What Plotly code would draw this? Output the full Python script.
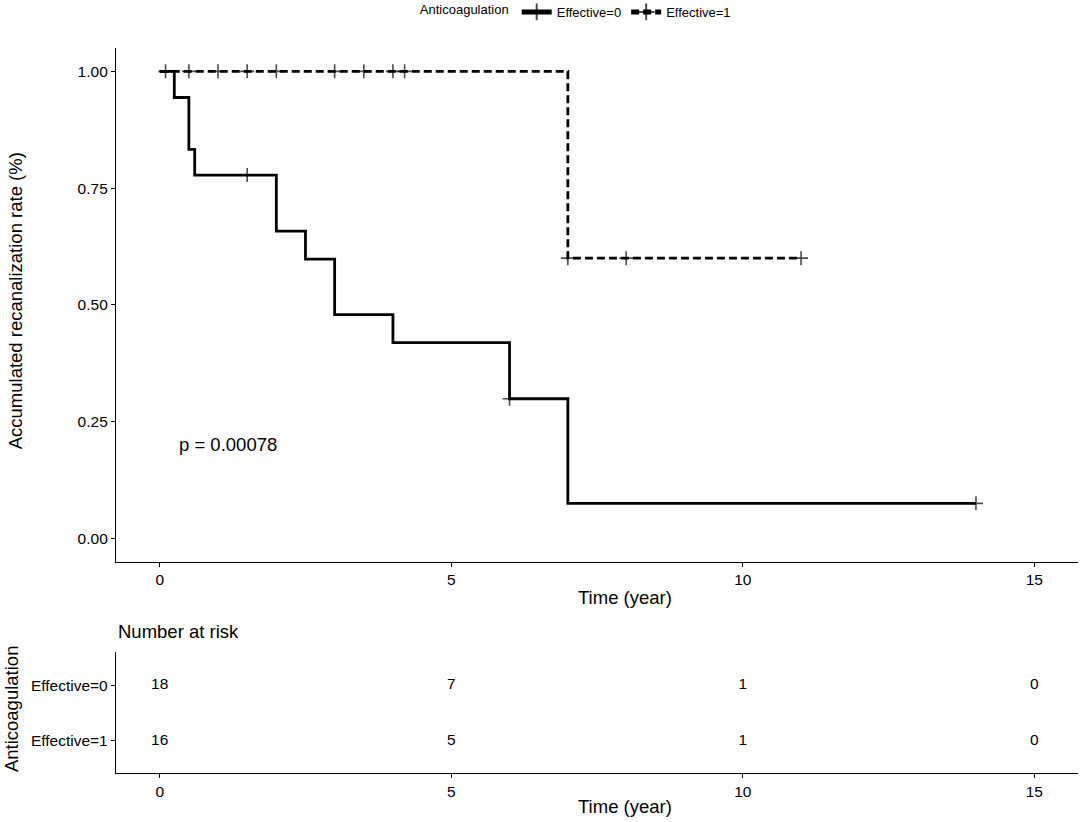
import plotly.graph_objects as go

# ---- data ----
groups = ["Effective=0", "Effective=1"]

# Effective=0 (solid): step times and survival after each step, censor times
g0_times = [0, 0.25, 0.5, 0.6, 2.0, 2.5, 3.0, 4.0, 6.0, 7.0]
g0_surv = [1.0, 0.944, 0.833, 0.778, 0.658, 0.598, 0.479, 0.419, 0.299, 0.075]
g0_censor = [1.5, 6.0, 14.0]

# Effective=1 (dashed)
g1_times = [0, 7.0]
g1_surv = [1.0, 0.6]
g1_censor = [0.1, 0.5, 1.0, 1.5, 2.0, 3.0, 3.5, 4.0, 4.2, 7.0, 8.0, 11.0]

# number at risk table
risk_times = [0, 5, 10, 15]
risk_g0 = [18, 7, 1, 0]
risk_g1 = [16, 5, 1, 0]

y_ticks = [0.0, 0.25, 0.5, 0.75, 1.0]
p_label = "p = 0.00078"

FONT = "Liberation Sans, Arial, sans-serif"


def km_path(times, surv, censor):
    pts = [(t, s, 0) for t, s in zip(times, surv)]
    for c in censor:
        idx = max(i for i, t in enumerate(times) if t <= c)
        pts.append((c, surv[idx], 1))
    pts.sort(key=lambda p: (p[0], p[2]))
    xs = [p[0] for p in pts]
    ys = [p[1] for p in pts]
    sizes = [10 if p[2] else 0 for p in pts]
    return xs, ys, sizes


fig = go.Figure()

for name, times, surv, cens, dash in [
    (groups[0], g0_times, g0_surv, g0_censor, "solid"),
    (groups[1], g1_times, g1_surv, g1_censor, "8px,4px"),
]:
    xs, ys, sizes = km_path(times, surv, cens)
    fig.add_trace(go.Scatter(
        x=xs, y=ys, name=name, mode="lines+markers",
        line=dict(shape="hv", color="black", width=2.8, dash=dash),
        marker=dict(symbol="cross-thin", size=sizes, color="black",
                    line=dict(color="black", width=1.6)),
        xaxis="x", yaxis="y", hoverinfo="skip",
    ))

for row, vals in enumerate([risk_g0, risk_g1]):
    fig.add_trace(go.Scatter(
        x=risk_times, y=[row] * len(risk_times), mode="text",
        text=[str(v) for v in vals], textposition="middle center",
        textfont=dict(size=15.5, color="black", family=FONT),
        xaxis="x2", yaxis="y2", showlegend=False, hoverinfo="skip",
    ))

axis_common = dict(showline=True, linecolor="black", linewidth=1.3,
                   ticks="outside", ticklen=4, tickwidth=1.3, tickcolor="black",
                   showgrid=False, zeroline=False, automargin=False,
                   tickfont=dict(size=15.5, color="black", family=FONT))

fig.update_layout(
    width=1084, height=822,
    margin=dict(l=116, r=6, t=48, b=49, autoexpand=False),
    plot_bgcolor="white", paper_bgcolor="white",
    font=dict(family=FONT, color="black", size=15),
    xaxis=dict(domain=[0, 1], range=[-0.75, 15.75], tickvals=risk_times,
               anchor="y", **axis_common),
    yaxis=dict(domain=[0.2914, 1], range=[-0.05, 1.05], tickvals=y_ticks,
               ticktext=["%.2f" % v for v in y_ticks], anchor="x", **axis_common),
    xaxis2=dict(domain=[0, 1], range=[-0.75, 15.75], tickvals=risk_times,
                anchor="y2", **axis_common),
    yaxis2=dict(domain=[0, 0.1673], range=[1.575, -0.6], tickvals=[0, 1],
                ticktext=groups, anchor="x2", **axis_common),
    legend=dict(orientation="h", x=0.479, xanchor="center", y=1.0497,
                yanchor="middle", itemsizing="constant", itemwidth=30,
                title=dict(text="Anticoagulation", side="left",
                           font=dict(size=13, family=FONT)),
                font=dict(size=13, family=FONT), bgcolor="rgba(0,0,0,0)"),
    annotations=[
        dict(text=p_label, x=0.29, y=0.2, xref="x", yref="y", xanchor="left",
             yanchor="middle", showarrow=False, font=dict(size=18.5, family=FONT)),
        dict(text="Time (year)", x=0.529, y=0.2414, xref="paper", yref="paper",
             xanchor="center", yanchor="middle", showarrow=False,
             font=dict(size=18.5, family=FONT)),
        dict(text="Time (year)", x=0.529, y=-0.0465, xref="paper", yref="paper",
             xanchor="center", yanchor="middle", showarrow=False,
             font=dict(size=18.5, family=FONT)),
        dict(text="Accumulated recanalization rate (%)", x=-0.105, y=0.652,
             xref="paper", yref="paper", xanchor="center", yanchor="middle",
             textangle=-90, showarrow=False, font=dict(size=18.5, family=FONT)),
        dict(text="Anticoagulation", x=-0.108, y=0.0883,
             xref="paper", yref="paper", xanchor="center", yanchor="middle",
             textangle=-90, showarrow=False, font=dict(size=18.5, family=FONT)),
        dict(text="Number at risk", x=0.0, y=0.1945, xref="paper", yref="paper",
             xanchor="left", yanchor="middle", showarrow=False,
             font=dict(size=18.5, family=FONT)),
    ],
)

fig.write_html("out.html",
               config={"displayModeBar": False},
               post_script="document.body.style.margin='0px';"
                           "document.body.style.overflow='hidden';")
